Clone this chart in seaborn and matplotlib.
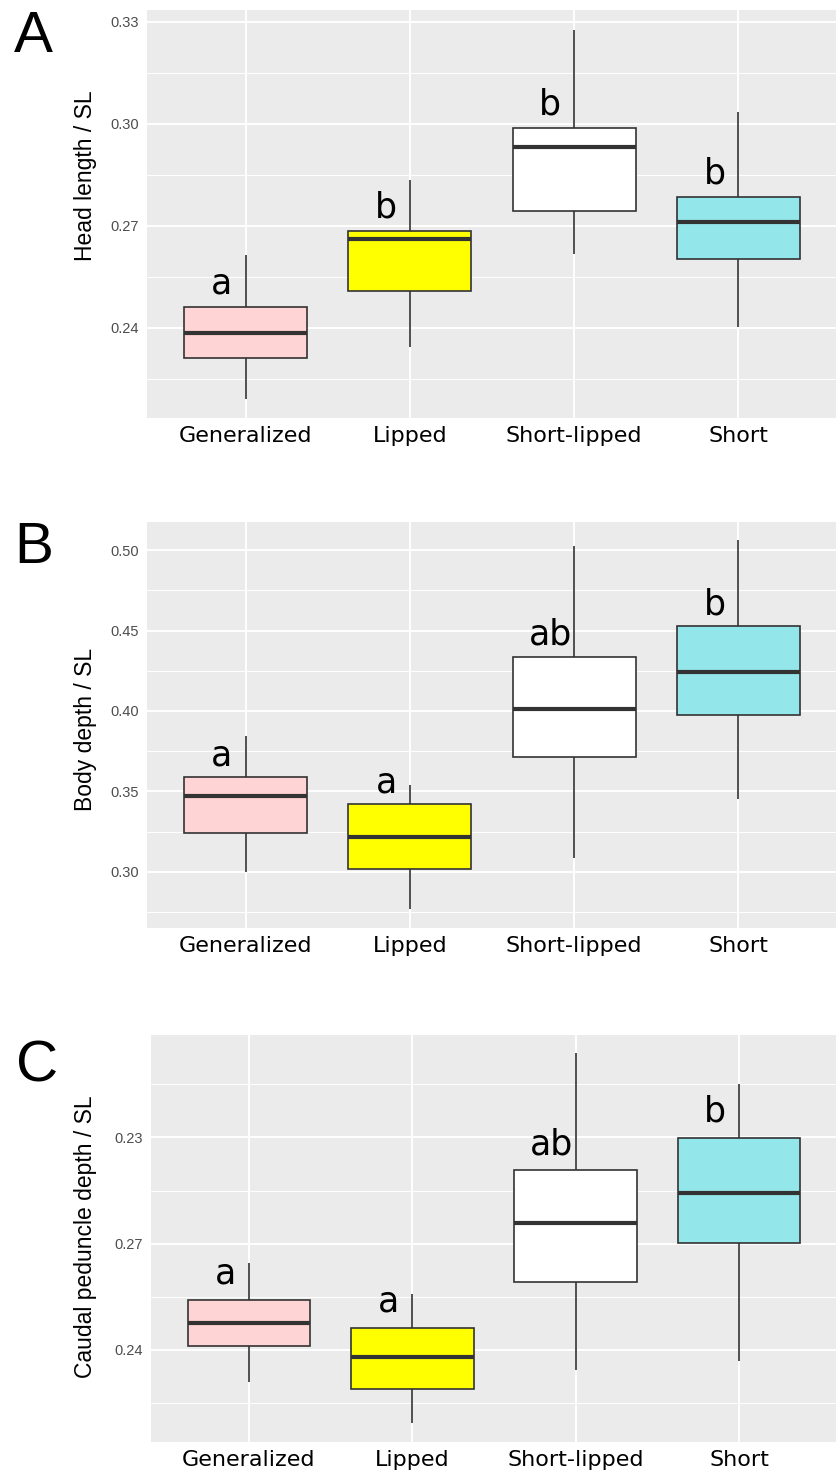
import matplotlib
matplotlib.use("Agg")
import matplotlib.pyplot as plt
from matplotlib.ticker import FixedLocator
import seaborn as sns
import pandas as pd

groups = ["Generalized", "Lipped", "Short-lipped", "Short"]
colors = ["#FFD4D4", "#FFFF00", "#FFFFFF", "#93E6EA"]

# Panel A: Head length / SL  (lower whisker, Q1, median, Q3, upper whisker)
head_low = [0.2191, 0.2344, 0.2618, 0.2403]
head_q1 = [0.2312, 0.2509, 0.2744, 0.2603]
head_med = [0.2385, 0.2662, 0.2932, 0.2712]
head_q3 = [0.2462, 0.2685, 0.2988, 0.2785]
head_high = [0.2615, 0.2835, 0.3276, 0.3035]
head_letters = ["a", "b", "b", "b"]
head_ticks = [0.24, 0.27, 0.30, 0.33]
head_ticklabels = ["0.24", "0.27", "0.30", "0.33"]
head_minor = [0.225, 0.255, 0.285, 0.315]

# Panel B: Body depth / SL
body_low = [0.3002, 0.2768, 0.3085, 0.3451]
body_q1 = [0.3240, 0.3019, 0.3716, 0.3975]
body_med = [0.3474, 0.3219, 0.4010, 0.4244]
body_q3 = [0.3588, 0.3422, 0.4337, 0.4528]
body_high = [0.3847, 0.3540, 0.5027, 0.5062]
body_letters = ["a", "a", "ab", "b"]
body_ticks = [0.30, 0.35, 0.40, 0.45, 0.50]
body_ticklabels = ["0.30", "0.35", "0.40", "0.45", "0.50"]
body_minor = [0.275, 0.325, 0.375, 0.425, 0.475]

# Panel C: Caudal peduncle depth / SL (tick labels as printed in the original)
caud_low = [0.2309, 0.2193, 0.2343, 0.2369]
caud_q1 = [0.2412, 0.2290, 0.2593, 0.2702]
caud_med = [0.2477, 0.2381, 0.2759, 0.2844]
caud_q3 = [0.2542, 0.2463, 0.2907, 0.2999]
caud_high = [0.2645, 0.2558, 0.3238, 0.3152]
caud_letters = ["a", "a", "ab", "b"]
caud_ticks = [0.24, 0.27, 0.30]
caud_ticklabels = ["0.24", "0.27", "0.23"]
caud_minor = [0.225, 0.255, 0.285, 0.315]

W, H = 837, 1477
sns.set_style("white")
plt.rcParams["font.family"] = ["DejaVu Sans"]
plt.rcParams["text.color"] = "black"
fig = plt.figure(figsize=(W / 100, H / 100), dpi=100)


def px_axes(left, right, top, bottom):
    return fig.add_axes([left / W, 1 - bottom / H, (right - left) / W, (bottom - top) / H])


panels = [
    dict(rect=(147, 837, 10, 418), low=head_low, q1=head_q1, med=head_med, q3=head_q3,
         high=head_high, letters=head_letters, ticks=head_ticks, labels=head_ticklabels,
         minor=head_minor, ylim=(0.2135, 0.3335), ylabel="Head length / SL",
         tag="A", tag_xy=(14, 52), off=9.5, lab_x=97, lab_y=176),
    dict(rect=(147, 837, 522, 928), low=body_low, q1=body_q1, med=body_med, q3=body_q3,
         high=body_high, letters=body_letters, ticks=body_ticks, labels=body_ticklabels,
         minor=body_minor, ylim=(0.2652, 0.5174), ylabel="Body depth / SL",
         tag="B", tag_xy=(14, 563), off=8.5, lab_x=97, lab_y=729),
    dict(rect=(151, 837, 1035, 1442), low=caud_low, q1=caud_q1, med=caud_med, q3=caud_q3,
         high=caud_high, letters=caud_letters, ticks=caud_ticks, labels=caud_ticklabels,
         minor=caud_minor, ylim=(0.2140, 0.3289), ylabel="Caudal peduncle depth / SL",
         tag="C", tag_xy=(16, 1082), off=11.5, lab_x=97, lab_y=1237),
]

for p in panels:
    ax = px_axes(*p["rect"])
    rows = []
    for i, g in enumerate(groups):
        for v in (p["low"][i], p["q1"][i], p["med"][i], p["q3"][i], p["high"][i]):
            rows.append({"group": g, "value": v})
    df = pd.DataFrame(rows)
    sns.boxplot(data=df, x="group", y="value", hue="group", order=groups,
                hue_order=groups, palette=colors, saturation=1, whis=(0, 100),
                width=0.75, linecolor="#333333", linewidth=1.2, showcaps=False,
                fliersize=0, medianprops={"linewidth": 3.0}, legend=False, ax=ax)
    ax.set_facecolor("#EBEBEB")
    for s in ax.spines.values():
        s.set_visible(False)
    ax.set_xlim(-0.6, len(groups) - 0.4)
    ax.set_ylim(*p["ylim"])
    ax.set_yticks(p["ticks"])
    ax.set_yticklabels(p["labels"], fontfamily="Liberation Sans", fontsize=10.5,
                       color="#4D4D4D")
    ax.yaxis.set_minor_locator(FixedLocator(p["minor"]))
    ax.set_xticks(range(len(groups)))
    ax.set_xticklabels(groups, fontsize=16, color="black")
    ax.tick_params(which="major", length=3, width=0.9, color="#333333", pad=2.5)
    ax.tick_params(which="minor", length=0)
    ax.set_axisbelow(True)
    ax.grid(which="major", axis="both", color="white", linewidth=1.4)
    ax.grid(which="minor", axis="y", color="white", linewidth=0.7)
    ax.set_xlabel("")
    ax.set_ylabel(p["ylabel"], fontfamily="Liberation Sans", fontsize=16.5, color="black")
    left, right, top, bottom = p["rect"]
    ax.yaxis.set_label_coords((p["lab_x"] - left) / (right - left),
                              (bottom - p["lab_y"]) / (bottom - top))
    for i, letter in enumerate(p["letters"]):
        ax.annotate(letter, xy=(i - 0.145, p["q3"][i]), xytext=(0, p["off"]),
                    textcoords="offset points", ha="center", va="baseline",
                    fontsize=25, color="black")
    fig.text(p["tag_xy"][0] / W, 1 - p["tag_xy"][1] / H, p["tag"],
             fontfamily="Liberation Sans", fontsize=42, ha="left", va="baseline",
             color="black")

fig.savefig("out.png", dpi=100)
